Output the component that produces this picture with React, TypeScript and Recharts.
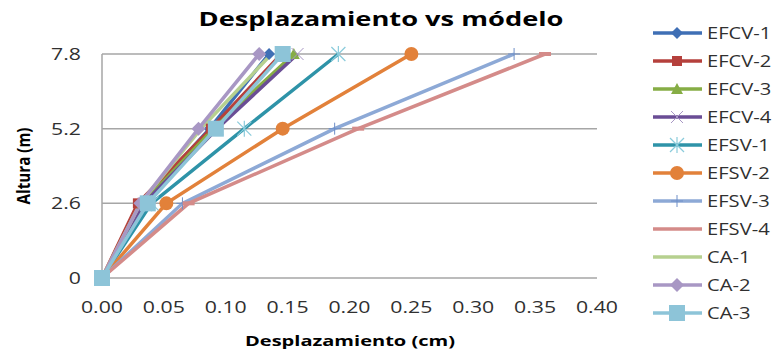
import { LineChart, Line, XAxis, YAxis, CartesianGrid } from 'recharts';

// alturas (m) y desplazamientos (cm) por modelo
const alturas = [0, 2.6, 5.2, 7.8];
const xTicks = [0, 0.05, 0.1, 0.15, 0.2, 0.25, 0.3, 0.35, 0.4];

const efcv1 = [0, 0.032, 0.087, 0.135];
const efcv2 = [0, 0.029, 0.088, 0.145];
const efcv3 = [0, 0.033, 0.09, 0.155];
const efcv4 = [0, 0.034, 0.093, 0.158];
const efsv1 = [0, 0.04, 0.115, 0.191];
const efsv2 = [0, 0.052, 0.146, 0.25];
const efsv3 = [0, 0.065, 0.188, 0.333];
const efsv4 = [0, 0.07, 0.207, 0.358];
const ca1 = [0, 0.031, 0.08, 0.137];
const ca2 = [0, 0.031, 0.078, 0.127];
const ca3 = [0, 0.037, 0.092, 0.146];

const series = [
  { name: 'EFCV-1', values: efcv1, color: '#3F6FB5', marker: 'diamond' },
  { name: 'EFCV-2', values: efcv2, color: '#B5403C', marker: 'square' },
  { name: 'EFCV-3', values: efcv3, color: '#86AD45', marker: 'triangle' },
  { name: 'EFCV-4', values: efcv4, color: '#6A4D95', marker: 'x' },
  { name: 'EFSV-1', values: efsv1, color: '#2E93A8', marker: 'star' },
  { name: 'EFSV-2', values: efsv2, color: '#E2813A', marker: 'circle' },
  { name: 'EFSV-3', values: efsv3, color: '#8DA9D6', marker: 'plus' },
  { name: 'EFSV-4', values: efsv4, color: '#D48B89', marker: 'dash' },
  { name: 'CA-1', values: ca1, color: '#B6D08F', marker: 'none' },
  { name: 'CA-2', values: ca2, color: '#A897C4', marker: 'bigdiamond' },
  { name: 'CA-3', values: ca3, color: '#8DC4D8', marker: 'bigsquare' },
];

const data = alturas.map((h, i) => {
  const row: any = { h };
  series.forEach((s) => (row[s.name] = s.values[i]));
  return row;
});

const FONT = '"Open Sans", sans-serif';
const SX = 1.33; // the reference text is drawn wide

function Marker({ type, color, cx, cy, legend }: any) {
  if (cx == null || cy == null) return null;
  switch (type) {
    case 'diamond':
      return <polygon points={`${cx},${cy - 6} ${cx + 6},${cy} ${cx},${cy + 6} ${cx - 6},${cy}`} fill={color} />;
    case 'bigdiamond':
      return <polygon points={`${cx},${cy - 7} ${cx + 7},${cy} ${cx},${cy + 7} ${cx - 7},${cy}`} fill={color} />;
    case 'square':
      return <rect x={cx - 5} y={cy - 5} width={10} height={10} fill={color} />;
    case 'bigsquare':
      return <rect x={cx - 8} y={cy - 8} width={16} height={16} fill={color} />;
    case 'triangle':
      return <polygon points={`${cx},${cy - 6} ${cx + 6},${cy + 5} ${cx - 6},${cy + 5}`} fill={color} />;
    case 'circle':
      return <circle cx={cx} cy={cy} r={7} fill={color} />;
    case 'x':
      return (
        <g stroke="#A897C4" strokeWidth={1}>
          <line x1={cx - 6} y1={cy - 6} x2={cx + 6} y2={cy + 6} />
          <line x1={cx - 6} y1={cy + 6} x2={cx + 6} y2={cy - 6} />
        </g>
      );
    case 'star':
      return (
        <g stroke="#8ACBDB" strokeWidth={1.2}>
          <line x1={cx - 7} y1={cy - 7} x2={cx + 7} y2={cy + 7} />
          <line x1={cx - 7} y1={cy + 7} x2={cx + 7} y2={cy - 7} />
          <line x1={cx} y1={cy - 8} x2={cx} y2={cy + 8} />
        </g>
      );
    case 'plus':
      return (
        <g stroke="#6E8FC8" strokeWidth={1}>
          <line x1={cx - 6} y1={cy} x2={cx + 6} y2={cy} />
          <line x1={cx} y1={cy - 6} x2={cx} y2={cy + 6} />
        </g>
      );
    case 'dash':
      return legend ? null : <rect x={cx - 6} y={cy - 2} width={12} height={4} fill={color} />;
    default:
      return null;
  }
}

function XTick({ x, y, payload }: any) {
  return (
    <text
      transform={`translate(${x},${y + 33}) scale(${SX},1)`}
      textAnchor="middle"
      fontSize={16}
      fill="#303030"
      fontFamily={FONT}
    >
      {payload.value.toFixed(2)}
    </text>
  );
}

function YTick({ x, y, payload }: any) {
  return (
    <text
      transform={`translate(${x},${y + 6}) scale(${SX},1)`}
      textAnchor="end"
      fontSize={16}
      fill="#303030"
      fontFamily={FONT}
    >
      {payload.value}
    </text>
  );
}

function LegendBox() {
  return (
    <svg width={120} height={330} style={{ position: 'absolute', left: 653, top: 0 }}>
      {series.map((s, i) => {
        const y = 33 + i * 28;
        return (
          <g key={s.name}>
            <line x1={0} y1={y} x2={49} y2={y} stroke={s.color} strokeWidth={3.5} />
            <Marker type={s.marker} color={s.color} cx={24} cy={y} legend />
            <text transform={`translate(54,${y + 6}) scale(1.26,1)`} fontSize={16} fill="#303030" fontFamily={FONT}>
              {s.name}
            </text>
          </g>
        );
      })}
    </svg>
  );
}

export default function App() {
  return (
    <div style={{ position: 'absolute', left: 0, top: 0, width: 773, height: 352, background: '#fff' }}>
      <LineChart
        width={773}
        height={352}
        data={data}
        layout="vertical"
        margin={{ top: 54, right: 176, bottom: 14, left: 0 }}
      >
        <CartesianGrid vertical={false} stroke="#A6A6A6" strokeWidth={1.5} />
        <XAxis
          type="number"
          domain={[0, 0.4]}
          ticks={xTicks}
          axisLine={false}
          tickLine={false}
          tickSize={0}
          height={60}
          interval={0}
          tick={<XTick />}
        />
        <YAxis
          type="number"
          dataKey="h"
          domain={[0, 7.8]}
          ticks={alturas}
          reversed
          axisLine={{ stroke: '#A6A6A6', strokeWidth: 1.5 }}
          tickLine={false}
          tickSize={0}
          tickMargin={0}
          width={102}
          interval={0}
          tick={(p: any) => <YTick {...p} x={81} />}
        />
        {series.map((s) => (
          <Line
            key={s.name}
            dataKey={s.name}
            stroke={s.color}
            strokeWidth={3.5}
            isAnimationActive={false}
            dot={(p: any) => <Marker key={`${s.name}-${p.index}`} type={s.marker} color={s.color} cx={p.cx} cy={p.cy} />}
            activeDot={false}
          />
        ))}
        <text
          x={381}
          y={26}
          textAnchor="middle"
          fontSize={19}
          fontWeight="bold"
          fill="#000"
          fontFamily={FONT}
          textLength={365}
          lengthAdjust="spacingAndGlyphs"
        >
          Desplazamiento vs módelo
        </text>
        <text
          x={350}
          y={346}
          textAnchor="middle"
          fontSize={14}
          fontWeight="bold"
          fill="#000"
          fontFamily={FONT}
          textLength={210}
          lengthAdjust="spacingAndGlyphs"
        >
          Desplazamiento (cm)
        </text>
        <text
          x={30}
          y={166}
          textAnchor="middle"
          fontSize={17}
          fontWeight="bold"
          fill="#000"
          fontFamily={FONT}
          textLength={77}
          lengthAdjust="spacingAndGlyphs"
          transform="rotate(-90 30 166)"
        >
          Altura (m)
        </text>
      </LineChart>
      <LegendBox />
    </div>
  );
}
